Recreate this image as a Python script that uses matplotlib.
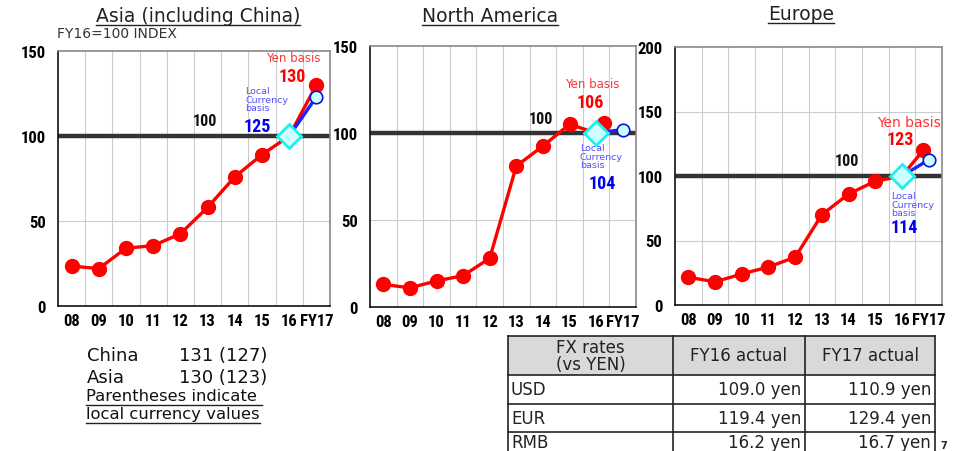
import numpy as np
import matplotlib
matplotlib.use("Agg")
import matplotlib.pyplot as plt
from matplotlib.patches import Rectangle

# data
years = ["08", "09", "10", "11", "12", "13", "14", "15", "16", "FY17"]
asia_yen = [23.5, 22, 34, 35.5, 42.5, 58, 76, 89, 100, 130]
asia_local = [100, 123]
na_yen = [13, 11, 15, 18, 28, 81, 92.5, 105, 100, 106]
na_local = [100, 102]
eu_yen = [21.5, 18, 24, 29.5, 37, 70, 86, 96, 100, 120]
eu_local = [100, 112.5]

fx_head = ["FX rates\n(vs YEN)", "FY16 actual", "FY17 actual"]
fx_cur = ["USD", "EUR", "RMB"]
fx_16 = ["109.0 yen", "119.4 yen", "16.2 yen"]
fx_17 = ["110.9 yen", "129.4 yen", "16.7 yen"]

W, H = 960, 452
fig = plt.figure(figsize=(W / 100, H / 100), dpi=100)
bold_narrow = dict(family=["Roboto Condensed", "DejaVu Sans"], fontweight="bold")


def px_axes(l, t, r, b):
    return fig.add_axes([l / W, (H - b) / H, (r - l) / W, (b - t) / H])


def panel(ax, yen, local, ymax, ystep, yen_shift=0.0):
    x = np.arange(len(yen)) + 0.5
    ax.set_xlim(0, len(yen))
    ax.set_ylim(0, ymax)
    for g in range(1, len(yen)):
        ax.axvline(g, color="#cccccc", lw=0.8, zorder=0)
    for g in np.arange(ystep, ymax, ystep):
        if g != 100:
            ax.axhline(g, color="#cccccc", lw=0.8, zorder=0)
    ax.axhline(100, color="#333333", lw=3.2, zorder=1)
    xs = x.copy()
    xs[-1] += yen_shift
    ax.plot(xs, yen, color="red", lw=2.4, marker="o", ms=10, zorder=3)
    ax.plot(x[-2:], local, color="#2020ff", lw=2.4, zorder=4)
    ax.plot(x[-1], local[-1], marker="o", ms=9, mfc="#ccffff", mec="#1010dd", mew=1.2, zorder=5)
    ax.plot(x[-2], local[0], marker="D", ms=12, mfc="#ccffff", mec="#22eeee", mew=2, zorder=6)
    ax.set_xticks(x)
    ax.set_xticklabels(years, fontsize=12, **bold_narrow)
    ax.set_yticks(np.arange(0, ymax + 1, ystep))
    ax.set_yticklabels([str(int(v)) for v in np.arange(0, ymax + 1, ystep)], fontsize=12, **bold_narrow)
    ax.tick_params(axis="x", length=0, pad=5)
    ax.tick_params(axis="y", length=0, pad=9)
    for s in ["top", "right"]:
        ax.spines[s].set_color("#888888")
        ax.spines[s].set_linewidth(1.2)
    for s in ["left", "bottom"]:
        ax.spines[s].set_color("#111111")
        ax.spines[s].set_linewidth(1.2)


ax1 = px_axes(58, 52, 330, 307)
panel(ax1, asia_yen, asia_local, 150, 50)
ax2 = px_axes(370, 47, 636, 308)
panel(ax2, na_yen, na_local, 150, 50, yen_shift=-0.7)
ax3 = px_axes(675, 48, 942, 306)
panel(ax3, eu_yen, eu_local, 200, 50, yen_shift=-0.2)

# overlay in pixel coordinates for text and table
ov = fig.add_axes([0, 0, 1, 1], zorder=10)
ov.set_xlim(0, W)
ov.set_ylim(H, 0)
ov.axis("off")
ov.patch.set_alpha(0)

titles = [("Asia (including China)", 198, 16), ("North America", 490, 16), ("Europe", 801, 14)]
title_objs = []
for t, tx, ty in titles:
    title_objs.append(ov.text(tx, ty, t, ha="center", va="center", fontsize=13.5, color="#222222"))
ov.text(57, 34, "FY16=100 INDEX", ha="left", va="center", fontsize=10, color="#333333")

small = dict(fontsize=6.8, color="#5050ff", linespacing=0.95, va="top", ha="left")
ann = [
    # yen label, yen value, 100 label, local label, local value
    ((293, 58), "130", (292, 77), (205, 122), (245, 87), "125", (257, 127)),
    ((592, 84), "106", (590, 103), (541, 119), (580, 144), "104", (602, 184)),
    ((909, 123), "123", (900, 140), (847, 162), (891, 192), "114", (904, 228)),
]
for i, (yl, yv, yvp, hp, ll, lv, lvp) in enumerate(ann):
    ov.text(yl[0], yl[1], "Yen basis", color="#ff3333", fontsize=[8.5, 8.5, 10][i],
            ha="center", va="center")
    ov.text(yvp[0], yvp[1], yv, color="red", fontsize=13, ha="center", va="center", **bold_narrow)
    ov.text(hp[0], hp[1], "100", color="#111111", fontsize=11.5, ha="center", va="center", **bold_narrow)
    ov.text(ll[0], ll[1], "Local\nCurrency\nbasis", **small)
    ov.text(lvp[0], lvp[1], lv, color="#0000ee", fontsize=13, ha="center", va="center", **bold_narrow)

# notes bottom left
ov.text(87, 356, "China", fontsize=13, va="center", color="#111111")
ov.text(179, 356, "131 (127)", fontsize=13, va="center", color="#111111")
ov.text(87, 378, "Asia", fontsize=13, va="center", color="#111111")
ov.text(179, 378, "130 (123)", fontsize=13, va="center", color="#111111")
n1 = ov.text(86, 397, "Parentheses indicate ", fontsize=11.8, va="center", color="#111111")
n2 = ov.text(86, 415, "local currency values", fontsize=11.8, va="center", color="#111111")

# FX table
cols = [508, 673, 805, 935]
rows = [337, 376, 405, 433, 462]
ov.add_patch(Rectangle((cols[0], rows[0]), cols[-1] - cols[0], rows[1] - rows[0],
                       facecolor="#d9d9d9", edgecolor="none"))
for c in cols:
    ov.plot([c, c], [rows[0], rows[-1]], color="#222222", lw=1.2)
for r in rows[:-1]:
    ov.plot([cols[0], cols[-1]], [r, r], color="#222222", lw=1.2)
tb = dict(fontsize=12, color="#222222", va="center")
ov.text((cols[0] + cols[1]) / 2, (rows[0] + rows[1]) / 2, fx_head[0], ha="center", linespacing=0.95, **tb)
ov.text((cols[1] + cols[2]) / 2, (rows[0] + rows[1]) / 2, fx_head[1], ha="center", **tb)
ov.text((cols[2] + cols[3]) / 2, (rows[0] + rows[1]) / 2, fx_head[2], ha="center", **tb)
for i in range(3):
    cy = (rows[i + 1] + rows[i + 2]) / 2 - (4 if i == 2 else 0)
    ov.text(cols[0] + 3, cy, fx_cur[i], ha="left", **tb)
    ov.text(cols[2] - 4, cy, fx_16[i], ha="right", **tb)
    ov.text(cols[3] - 4, cy, fx_17[i], ha="right", **tb)
ov.text(944, 446, "7", fontsize=7, color="#222222", ha="center", va="center", fontweight="bold")

# underline a few texts
fig.canvas.draw()
rend = fig.canvas.get_renderer()
inv = ov.transData.inverted()
for t in title_objs + [n1, n2]:
    bb = t.get_window_extent(rend)
    (x0, y0), (x1, y1) = inv.transform([(bb.x0, bb.y0), (bb.x1, bb.y1)])
    ov.plot([x0, x1], [y0 + 1, y0 + 1], color="#222222", lw=1.0)

fig.savefig("out.png", dpi=100)
